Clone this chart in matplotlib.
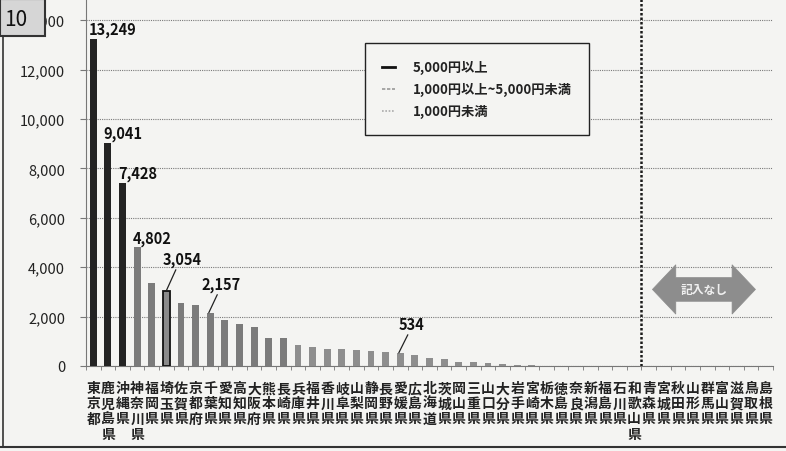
import matplotlib
matplotlib.use('Agg')
import matplotlib.pyplot as plt
from matplotlib.lines import Line2D
from matplotlib.patches import Rectangle, Polygon
from matplotlib.ticker import FuncFormatter, MultipleLocator
import numpy as np

plt.rcParams['font.family'] = ['Noto Sans CJK JP', 'DejaVu Sans']

# ---------------- data ----------------
prefectures = ['東京都', '鹿児島県', '沖縄県', '神奈川県', '福岡県', '埼玉県', '佐賀県', '京都府',
               '千葉県', '愛知県', '高知県', '大阪府', '熊本県', '長崎県', '兵庫県', '福井県',
               '香川県', '岐阜県', '山梨県', '静岡県', '長野県', '愛媛県', '広島県', '北海道',
               '茨城県', '岡山県', '三重県', '山口県', '大分県', '岩手県', '宮崎県', '栃木県',
               '徳島県', '奈良県', '新潟県', '福島県', '石川県', '和歌山県', '青森県', '宮城県',
               '秋田県', '山形県', '群馬県', '富山県', '滋賀県', '鳥取県', '島根県']
values = [13249, 9041, 7428, 4802, 3350, 3054, 2540, 2480,
          2157, 1850, 1720, 1580, 1150, 1120, 830, 760,
          700, 670, 640, 600, 560, 534, 430, 320,
          270, 170, 160, 120, 100, 60, 50, 20,
          15, 10, 10, 0, 0, 0]            # remaining prefectures: 記入なし
labelled = [0, 1, 2, 3, 5, 8, 21]
highlight = 5
legend_labels = ['5,000円以上', '1,000円以上~5,000円未満', '1,000円未満']
no_entry_text = '記入なし'
yticks = [0, 2000, 4000, 6000, 8000, 10000, 12000, 14000]
panel_no = '10'

# ---------------- figure ----------------
W, H = 786, 452
fig = plt.figure(figsize=(W / 100, H / 100), dpi=100, facecolor='#f4f4f2')
ax = fig.add_axes([86 / W, (H - 367) / H, (773 - 86) / W, 367 / H])
ax.set_facecolor('#f4f4f2')

c_high, c_mid, c_low = '#232323', '#7b7b7b', '#8e8e8e'
def colour(v):
    if v >= 5000:
        return c_high
    if v >= 1000:
        return c_mid
    return c_low

x = np.arange(len(values))
cols = [colour(v) for v in values]
bars = ax.bar(x, values, width=0.47, color=cols, zorder=3, linewidth=0)
bars[highlight].set_edgecolor('#111')
bars[highlight].set_linewidth(1.3)
bars[highlight].set_facecolor('#8a8a8a')

ax.set_xlim(-0.5, len(prefectures) - 0.5)
ax.set_ylim(0, 14858)
ax.set_yticks(yticks)
ax.yaxis.set_major_formatter(FuncFormatter(lambda v, p: f'{int(v):,}'))
ax.yaxis.grid(True, linestyle=(0, (1, 1)), color='#7a7a7a', lw=0.8)
ax.set_axisbelow(True)

ax.set_xticks(np.arange(len(prefectures)))
ax.set_xticklabels(['\n'.join(p) for p in prefectures], fontsize=10,
                   fontweight='bold', linespacing=1.1, va='top', color='#222')
ax.xaxis.set_minor_locator(MultipleLocator(1, offset=0.5))
ax.tick_params(axis='x', which='major', length=0, pad=11)
ax.tick_params(axis='x', which='minor', length=3, color='#777', direction='out')
ax.tick_params(axis='y', which='major', length=4, color='#777', pad=11,
               labelsize=10.5, labelcolor='#222')

for s in ['top', 'right']:
    ax.spines[s].set_visible(False)
ax.spines['left'].set_linestyle((0, (2, 1)))
ax.spines['left'].set_color('#777')
ax.spines['bottom'].set_linestyle((0, (3, 1)))
ax.spines['bottom'].set_color('#777')

# value labels
lab_font = dict(fontsize=10.5, color='#111', fontweight='bold')
for i in labelled:
    v = values[i]
    txt = f'{v:,}'
    if i <= 3:
        ax.annotate(txt, xy=(i - 0.32, v), xytext=(0, 1), textcoords='offset points',
                    ha='left', va='bottom', **lab_font)
    elif i == highlight:
        ax.annotate(txt, xy=(i, v), xytext=(-3, 17), textcoords='offset points',
                    ha='left', va='bottom', **lab_font,
                    arrowprops=dict(arrowstyle='-', color='#222', lw=0.9,
                                    relpos=(0.4, 0.1), shrinkA=0, shrinkB=0))
    else:
        ax.annotate(txt, xy=(i - 0.1, v), xytext=(9, 15), textcoords='offset points',
                    ha='center', va='bottom', **lab_font,
                    arrowprops=dict(arrowstyle='-', color='#222', lw=0.9,
                                    relpos=(0.45, 0.1), shrinkA=0, shrinkB=0))

# boundary between entries and no entries
ax.axvline(len(values) - 0.5, color='#1a1a1a', linestyle=(0, (1, 0.8)), lw=1.8, zorder=4)

# double arrow "記入なし"
x0, x1 = len(values) + 0.25, len(values) + 7.3
yc, hh, sh, hl = 3100, 1000, 480, 1.6
pts = [(x0, yc), (x0 + hl, yc + hh), (x0 + hl, yc + sh), (x1 - hl, yc + sh),
       (x1 - hl, yc + hh), (x1, yc), (x1 - hl, yc - hh), (x1 - hl, yc - sh),
       (x0 + hl, yc - sh), (x0 + hl, yc - hh)]
ax.add_patch(Polygon(pts, closed=True, facecolor='#8d8d8d', edgecolor='#8d8d8d',
                     lw=0.5, zorder=5))
ax.text((x0 + x1) / 2, yc, no_entry_text, ha='center', va='center', fontsize=8.5,
        color='#f0f0f0', fontweight='bold', zorder=6)

# legend
handles = [Line2D([], [], color='#111', lw=2.0),
           Line2D([], [], color='#999', lw=1.2, linestyle=(0, (2, 1))),
           Line2D([], [], color='#aaa', lw=1.2, linestyle=(0, (1, 1)))]
leg = ax.legend(handles, legend_labels, loc='upper left',
                bbox_to_anchor=(365 / W, 1 - 44 / H), bbox_transform=fig.transFigure,
                borderaxespad=0,
                prop={'size': 9.5, 'weight': 'bold'}, frameon=True, fancybox=False,
                edgecolor='#222', facecolor='#f4f4f2', framealpha=1,
                handlelength=1.0, handletextpad=1.3, labelspacing=0.6, borderpad=1.3)
leg.get_frame().set_linewidth(1.0)
for t in leg.get_texts():
    t.set_color('#222')

# panel number box and frame
fig.add_artist(Rectangle((0, 1 - 37 / H), 45 / W, 37 / H, transform=fig.transFigure,
                         facecolor='#d6d6d6', edgecolor='#333', lw=1.5, zorder=10))
fig.text(16 / W, 1 - 20 / H, panel_no, fontsize=15, ha='center', va='center',
         color='#111', zorder=11)
fig.add_artist(Line2D([3 / W, 3 / W], [1 - 37 / H, 1 - 448 / H], transform=fig.transFigure,
                      color='#333', lw=1.2))
fig.add_artist(Line2D([0, 1], [1 - 448 / H, 1 - 448 / H], transform=fig.transFigure,
                      color='#333', lw=1.5))

fig.savefig('out.png', dpi=100, facecolor=fig.get_facecolor())
